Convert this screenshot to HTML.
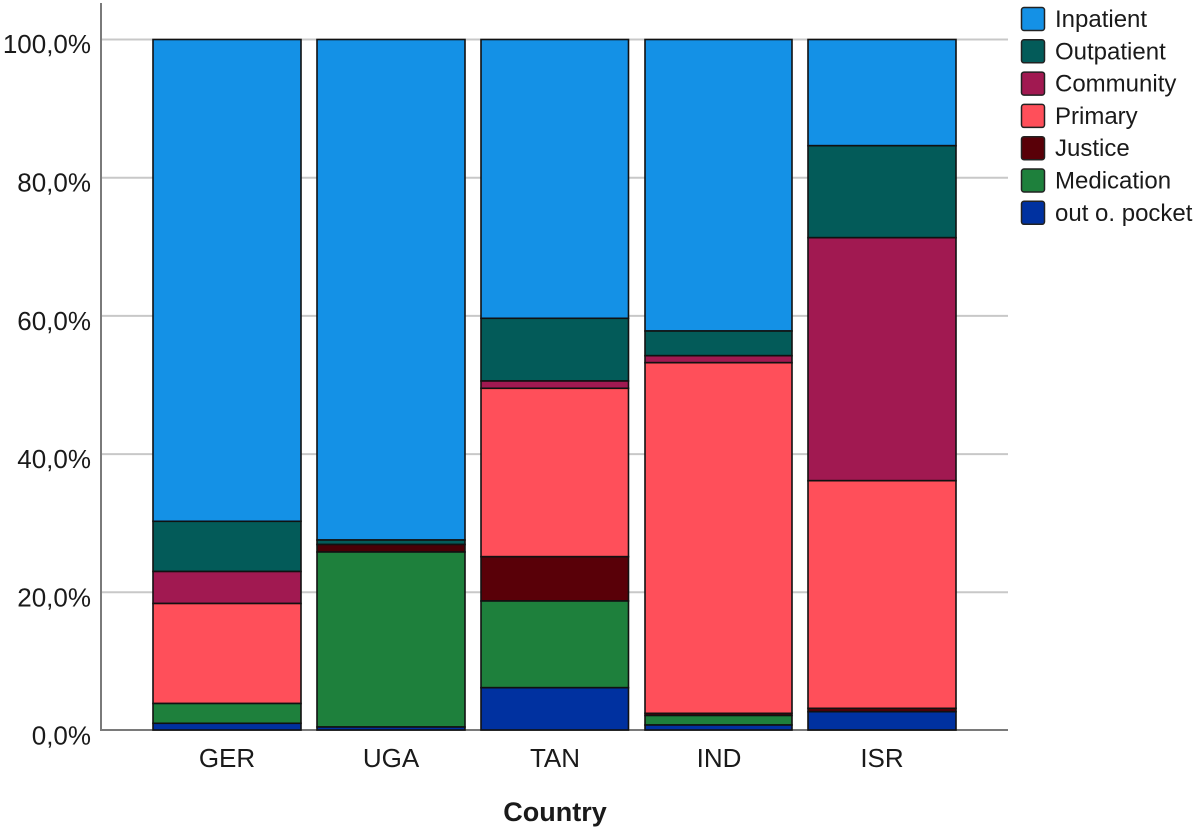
<!DOCTYPE html>
<html>
<head>
<meta charset="utf-8">
<style>
html,body{margin:0;padding:0;background:#fff;}
svg{display:block;}
text{font-family:"Liberation Sans",Arial,sans-serif;fill:#1a1a1a;}
</style>
</head>
<body>
<svg width="1200" height="831" viewBox="0 0 1200 831" xmlns="http://www.w3.org/2000/svg">
  <!-- gridlines -->
  <g stroke="#c8c8c8" stroke-width="2">
    <line x1="101" y1="39.5" x2="1008" y2="39.5"/>
    <line x1="101" y1="177.7" x2="1008" y2="177.7"/>
    <line x1="101" y1="315.9" x2="1008" y2="315.9"/>
    <line x1="101" y1="454.1" x2="1008" y2="454.1"/>
    <line x1="101" y1="592.2" x2="1008" y2="592.2"/>
  </g>
  <!-- axes -->
  <line x1="101" y1="3" x2="101" y2="730.5" stroke="#7a7a7a" stroke-width="2"/>
  <line x1="100" y1="730" x2="1008" y2="730" stroke="#7a7a7a" stroke-width="2"/>

  <!-- y labels -->
  <g font-size="26" text-anchor="end">
    <text x="91" y="53">100,0%</text>
    <text x="91" y="191.5">80,0%</text>
    <text x="91" y="330">60,0%</text>
    <text x="91" y="468">40,0%</text>
    <text x="91" y="606.5">20,0%</text>
    <text x="91" y="744.5">0,0%</text>
  </g>

  <g stroke="#111" stroke-width="1.6">
    <!-- GER -->
    <rect x="153" y="39.5" width="148" height="481.8" fill="#1491E6"/>
    <rect x="153" y="521.3" width="148" height="50.2" fill="#035B59"/>
    <rect x="153" y="571.5" width="148" height="32" fill="#A11951"/>
    <rect x="153" y="603.5" width="148" height="100" fill="#FF4F5A"/>
    <rect x="153" y="703.5" width="148" height="19.8" fill="#1E803C"/>
    <rect x="153" y="723.3" width="148" height="6.7" fill="#0031A0"/>
    <!-- UGA -->
    <rect x="317" y="39.5" width="148" height="500.5" fill="#1491E6"/>
    <rect x="317" y="540" width="148" height="4.5" fill="#035B59"/>
    <rect x="317" y="544.5" width="148" height="7.5" fill="#4A0006"/>
    <rect x="317" y="552" width="148" height="175" fill="#1E803C"/>
    <rect x="317" y="727" width="148" height="3" fill="#0031A0"/>
    <!-- TAN -->
    <rect x="481" y="39.5" width="147.5" height="278.8" fill="#1491E6"/>
    <rect x="481" y="318.3" width="147.5" height="62.7" fill="#035B59"/>
    <rect x="481" y="381" width="147.5" height="7.3" fill="#A11951"/>
    <rect x="481" y="388.3" width="147.5" height="168.4" fill="#FF4F5A"/>
    <rect x="481" y="556.7" width="147.5" height="44.3" fill="#590008"/>
    <rect x="481" y="601" width="147.5" height="86.7" fill="#1E803C"/>
    <rect x="481" y="687.7" width="147.5" height="42.3" fill="#0031A0"/>
    <!-- IND -->
    <rect x="645" y="39.5" width="147" height="291.5" fill="#1491E6"/>
    <rect x="645" y="331" width="147" height="24.7" fill="#035B59"/>
    <rect x="645" y="355.7" width="147" height="7" fill="#A11951"/>
    <rect x="645" y="362.7" width="147" height="350.6" fill="#FF4F5A"/>
    <rect x="645" y="713.3" width="147" height="2.2" fill="#590008"/>
    <rect x="645" y="715.5" width="147" height="9.5" fill="#1E803C"/>
    <rect x="645" y="725" width="147" height="5" fill="#0031A0"/>
    <!-- ISR -->
    <rect x="808" y="39.5" width="148" height="106.2" fill="#1491E6"/>
    <rect x="808" y="145.7" width="148" height="92" fill="#035B59"/>
    <rect x="808" y="237.7" width="148" height="243" fill="#A11951"/>
    <rect x="808" y="480.7" width="148" height="227.6" fill="#FF4F5A"/>
    <rect x="808" y="708.3" width="148" height="3.4" fill="#590008"/>
    <rect x="808" y="711.7" width="148" height="18.3" fill="#0031A0"/>
  </g>

  <!-- x labels -->
  <g font-size="26" text-anchor="middle">
    <text x="227" y="767">GER</text>
    <text x="391" y="767">UGA</text>
    <text x="555" y="767">TAN</text>
    <text x="719" y="767">IND</text>
    <text x="882" y="767">ISR</text>
  </g>
  <text x="555" y="821" font-size="27" font-weight="bold" text-anchor="middle">Country</text>

  <!-- legend -->
  <g stroke="#222" stroke-width="1.5">
    <rect x="1021.5" y="7.5" width="23" height="23" rx="2.5" fill="#1491E6"/>
    <rect x="1021.5" y="39.8" width="23" height="23" rx="2.5" fill="#035B59"/>
    <rect x="1021.5" y="72.1" width="23" height="23" rx="2.5" fill="#A11951"/>
    <rect x="1021.5" y="104.4" width="23" height="23" rx="2.5" fill="#FF4F5A"/>
    <rect x="1021.5" y="136.7" width="23" height="23" rx="2.5" fill="#590008"/>
    <rect x="1021.5" y="169" width="23" height="23" rx="2.5" fill="#1E803C"/>
    <rect x="1021.5" y="201.3" width="23" height="23" rx="2.5" fill="#0031A0"/>
  </g>
  <g font-size="24">
    <text x="1055" y="27">Inpatient</text>
    <text x="1055" y="59.3">Outpatient</text>
    <text x="1055" y="91.6">Community</text>
    <text x="1055" y="123.9">Primary</text>
    <text x="1055" y="156.2">Justice</text>
    <text x="1055" y="188.5">Medication</text>
    <text x="1055" y="220.8">out o. pocket</text>
  </g>
</svg>
</body>
</html>
